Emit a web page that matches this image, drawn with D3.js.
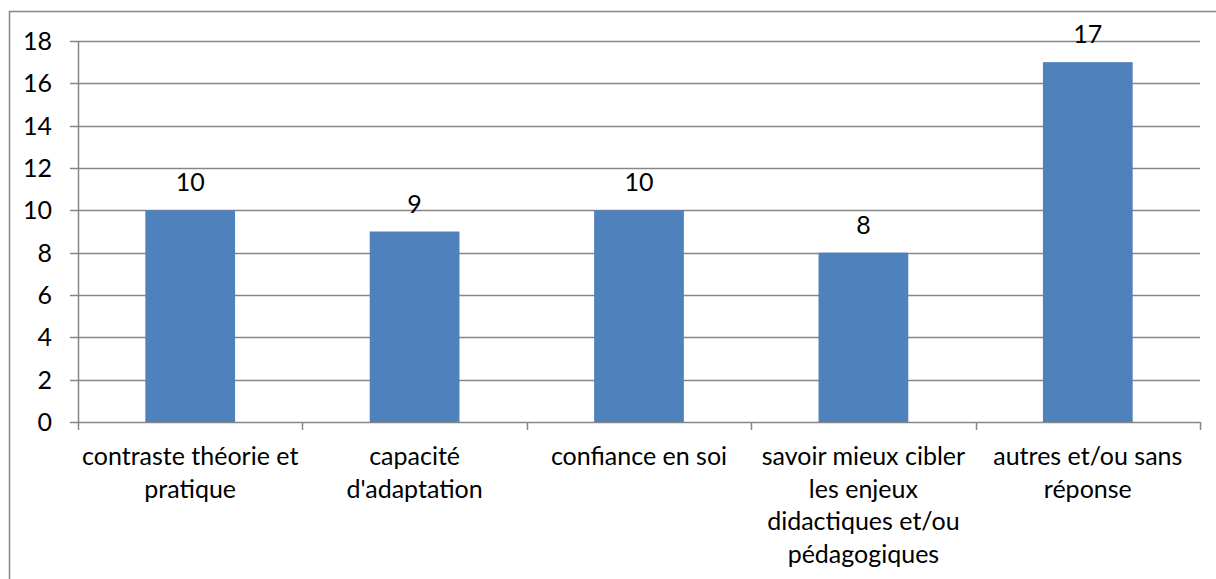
<!DOCTYPE html>
<html>
<head>
<meta charset="utf-8">
<script src="https://cdn.jsdelivr.net/npm/d3@7"></script>
<style>
  body { margin: 0; background: #fff; }
  text { font-family: Lato, "Open Sans", sans-serif; fill: #000; }
</style>
</head>
<body>
<div id="chart"></div>
<script>
// categories (line breaks as in the original), values and y ticks
const categories = [
  "contraste théorie et\npratique",
  "capacité\nd'adaptation",
  "confiance en soi",
  "savoir mieux cibler\nles enjeux\ndidactiques et/ou\npédagogiques",
  "autres et/ou sans\nréponse"
];
const values = [10, 9, 10, 8, 17];
const yTicks = [0, 2, 4, 6, 8, 10, 12, 14, 16, 18];

const W = 1216, H = 579;
const margin = {top: 41, right: 16, bottom: 157, left: 78};
const width = W - margin.left - margin.right;
const height = H - margin.top - margin.bottom;
const gridColor = "#868686";
const fontSize = 25;

const svg = d3.select("#chart").append("svg")
  .attr("width", W)
  .attr("height", H);

// outer chart frame
svg.append("rect")
  .attr("x", 9.5).attr("y", 11.5)
  .attr("width", W + 10).attr("height", H + 10)
  .attr("fill", "none")
  .attr("stroke", gridColor)
  .attr("stroke-width", 1.5);

const g = svg.append("g")
  .attr("transform", `translate(${margin.left},${margin.top})`);

const x = d3.scaleBand()
  .domain(d3.range(categories.length))
  .range([0, width]);

const y = d3.scaleLinear()
  .domain([0, 18])
  .range([height, 0]);

// gridlines + y ticks
g.append("g")
  .selectAll("line")
  .data(yTicks)
  .join("line")
  .attr("x1", -8).attr("x2", width)
  .attr("y1", d => Math.round(y(d)) + 0.5)
  .attr("y2", d => Math.round(y(d)) + 0.5)
  .attr("stroke", gridColor)
  .attr("stroke-width", 1.5);

g.append("g")
  .selectAll("text")
  .data(yTicks)
  .join("text")
  .attr("x", -26)
  .attr("y", d => y(d))
  .attr("dy", "0.36em")
  .attr("text-anchor", "end")
  .attr("font-size", fontSize)
  .text(d => d);

// y axis line
g.append("line")
  .attr("x1", 0.5).attr("x2", 0.5)
  .attr("y1", 0).attr("y2", height + 8)
  .attr("stroke", gridColor)
  .attr("stroke-width", 1.5);

// category ticks
g.append("g")
  .selectAll("line")
  .data(d3.range(1, categories.length + 1))
  .join("line")
  .attr("x1", d => Math.round(d * x.bandwidth()) + 0.5)
  .attr("x2", d => Math.round(d * x.bandwidth()) + 0.5)
  .attr("y1", height).attr("y2", height + 8)
  .attr("stroke", gridColor)
  .attr("stroke-width", 1.5);

// bars
const barW = x.bandwidth() * 0.4;
g.append("g")
  .selectAll("rect")
  .data(values)
  .join("rect")
  .attr("x", (d, i) => x(i) + (x.bandwidth() - barW) / 2)
  .attr("width", barW)
  .attr("y", d => y(d))
  .attr("height", d => height - y(d))
  .attr("fill", "#4F81BD");

// value labels
g.append("g")
  .selectAll("text")
  .data(values)
  .join("text")
  .attr("x", (d, i) => x(i) + x.bandwidth() / 2)
  .attr("y", d => y(d) - 19)
  .attr("text-anchor", "middle")
  .attr("font-size", fontSize)
  .text(d => d);

// category labels
const catLabels = g.append("g")
  .selectAll("text")
  .data(categories)
  .join("text")
  .attr("text-anchor", "middle")
  .attr("font-size", fontSize)
  .attr("transform", (d, i) => `translate(${x(i) + x.bandwidth() / 2},${height + 43})`);

catLabels.selectAll("tspan")
  .data(d => d.split("\n"))
  .join("tspan")
  .attr("x", 0)
  .attr("y", (d, i) => i * 32.5)
  .text(d => d);
</script>
</body>
</html>
